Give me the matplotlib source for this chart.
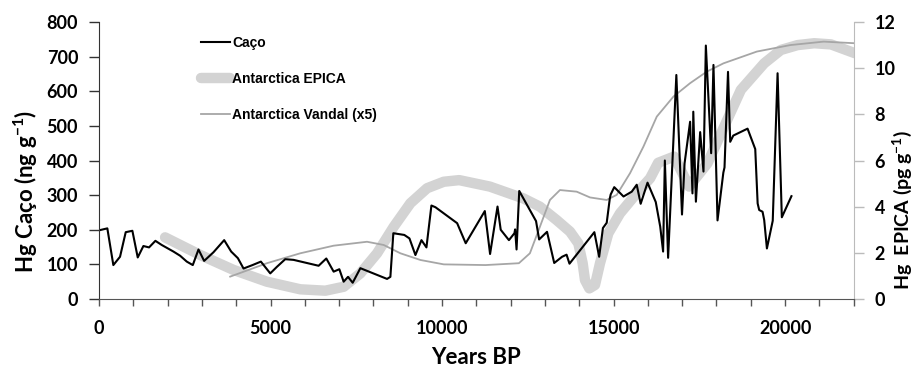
import matplotlib
matplotlib.use("Agg")
import matplotlib.pyplot as plt
from matplotlib.ticker import MultipleLocator

plt.rcParams["font.family"] = ["Lato", "DejaVu Sans"]
plt.rcParams["font.weight"] = "bold"
plt.rcParams["mathtext.fontset"] = "custom"
plt.rcParams["mathtext.bf"] = "Lato:bold"
plt.rcParams["mathtext.rm"] = "Lato:bold"

# Caço lake record (left axis, ng/g)
caco_age = [29, 243, 418, 613, 779, 973, 1129, 1294, 1459, 1644, 1829, 2170, 2364,
            2559, 2734, 2900, 3065, 3337, 3649, 3853, 4048, 4213, 4475, 4719, 4992,
            5187, 5429, 5672, 6402, 6626, 6840, 7006, 7132, 7259, 7395, 7619, 8397,
            8494, 8580, 8900, 9050, 9224, 9400, 9545, 9690, 9808, 10440, 10690,
            11247, 11400, 11617, 11710, 11950, 12110, 12130, 12172, 12250, 12740,
            12830, 13060, 13270, 13500, 13630, 13715, 14440, 14580, 14690, 14800,
            14890, 14916, 15020, 15290, 15530, 15675, 15790, 15990, 16230, 16360,
            16444, 16495, 16590, 16830, 16995, 17070, 17231, 17300, 17324, 17400,
            17524, 17621, 17690, 17845, 17912, 18030, 18200, 18234, 18336, 18400,
            18490, 18906, 19130, 19200, 19245, 19343, 19391, 19470, 19640, 19781,
            19905, 20185]
caco_hg = [199, 204, 98, 122, 193, 197, 120, 153, 149, 168, 156, 137, 125,
           108, 98, 143, 110, 135, 170, 137, 118, 88, 98, 108, 74,
           93, 115, 113, 96, 117, 79, 86, 50, 64, 47, 89, 58,
           64, 190, 185, 175, 127, 170, 149, 270, 265, 219, 161,
           254, 130, 267, 200, 170, 190, 201, 143, 312, 225,
           172, 194, 104, 122, 128, 102, 193, 122, 205, 220,
           290, 302, 323, 296, 310, 330, 275, 336, 280, 209,
           137, 400, 119, 647, 244, 392, 512, 305, 541, 281,
           482, 368, 732, 421, 676, 227, 365, 380, 656, 454,
           472, 492, 433, 276, 257, 252, 228, 146, 226, 652,
           236, 297]

# EPICA Dome C record (right axis, pg/g)
epica_age = [1926, 2948, 3921, 4894, 5867, 6597, 7132, 7619, 8106, 8592, 9078,
             9565, 10050, 10500, 11393, 12367, 12853, 13340, 13730, 13973, 14099,
             14167, 14294, 14459, 14605, 14848, 15188, 15675, 16065, 16300, 16765,
             17202, 17738, 18225, 18711, 19391, 19879, 20365, 20851, 21337, 22030]
epica_hg = [2.67, 1.91, 1.26, 0.75, 0.42, 0.36, 0.53, 1.11, 1.98, 3.13, 4.15,
            4.80, 5.08, 5.15, 4.87, 4.36, 4.00, 3.42, 2.92, 2.41, 1.55,
            0.82, 0.46, 0.61, 1.55, 2.85, 3.71, 4.58, 5.23, 5.9, 6.17,
            4.87, 5.88, 7.47, 9.06, 10.21, 10.79, 11.0, 11.08, 11.03, 10.65]

# Vandal record scaled x5 (right axis)
vandal_age = [3824, 4894, 5867, 6840, 7814, 8300, 8786, 9370, 10050, 11268, 12240,
              12561, 12853, 13145, 13437, 13924, 14313, 14799, 15091, 15480, 15870,
              16259, 16746, 17231, 17718, 18205, 19178, 20150, 21124, 22030]
vandal_hg = [0.97, 1.55, 1.98, 2.31, 2.48, 2.34, 1.98, 1.69, 1.50, 1.47, 1.55,
             1.98, 3.13, 4.29, 4.72, 4.65, 4.40, 4.29, 4.51, 5.45, 6.60,
             7.90, 8.77, 9.35, 9.85, 10.21, 10.72, 11.0, 11.15, 11.08]

fig = plt.figure(figsize=(9.16, 3.66), dpi=100)
ax = fig.add_axes([99 / 916, 1 - 299 / 366, 754.7 / 916, 277 / 366])
ax2 = ax.twinx()
ax.set_zorder(ax2.get_zorder() + 1)
ax.patch.set_visible(False)

l_epica, = ax2.plot(epica_age, epica_hg, color="#d3d3d3", lw=7.5,
                    solid_capstyle="round", label="Antarctica EPICA")
l_vandal, = ax2.plot(vandal_age, vandal_hg, color="#a6a6a6", lw=1.3,
                     label="Antarctica Vandal (x5)")
l_caco, = ax.plot(caco_age, caco_hg, color="black", lw=1.5, label="Caço")

ax.set_xlim(0, 22000)
ax.set_ylim(0, 800)
ax2.set_ylim(0, 12)
ax.xaxis.set_major_locator(MultipleLocator(5000))
ax.xaxis.set_minor_locator(MultipleLocator(1000))
ax.yaxis.set_major_locator(MultipleLocator(100))
ax2.yaxis.set_major_locator(MultipleLocator(2))

for s in ["top", "right"]:
    ax.spines[s].set_visible(False)
for s in ["top", "left", "bottom"]:
    ax2.spines[s].set_visible(False)
ax.spines["left"].set_color("#333333")
ax.spines["bottom"].set_color("#555555")
ax2.spines["right"].set_color("#bbbbbb")

ax.tick_params(axis="y", direction="out", length=7, width=1, color="#333333",
               labelsize=13, pad=8)
ax.tick_params(axis="x", which="both", direction="out", length=5, width=1,
               color="#555555", labelsize=13, pad=10)
ax2.tick_params(axis="y", direction="out", length=7, width=1, color="#bbbbbb",
                labelsize=13, pad=8)

ax.set_xlabel("Years BP", fontsize=16, fontweight="bold", labelpad=7)
fig.text(0.028, 1 - 192 / 366, r"Hg Caço (ng g$^{\mathbf{-1}}$)", rotation=90,
         ha="center", va="center", fontsize=16, fontweight="bold")
fig.text(0.985, 1 - 210 / 366, r"Hg  EPICA (pg g$^{\mathbf{-1}}$)", rotation=90,
         ha="center", va="center", fontsize=14, fontweight="bold")

leg = ax.legend(handles=[l_caco, l_epica, l_vandal], loc="upper left",
                bbox_to_anchor=(0.118, 0.995), frameon=False, labelspacing=1.6,
                handlelength=2.1, handletextpad=0.2,
                prop={"family": "Liberation Sans", "weight": "bold", "size": 10})

fig.savefig("out.png", dpi=100)
